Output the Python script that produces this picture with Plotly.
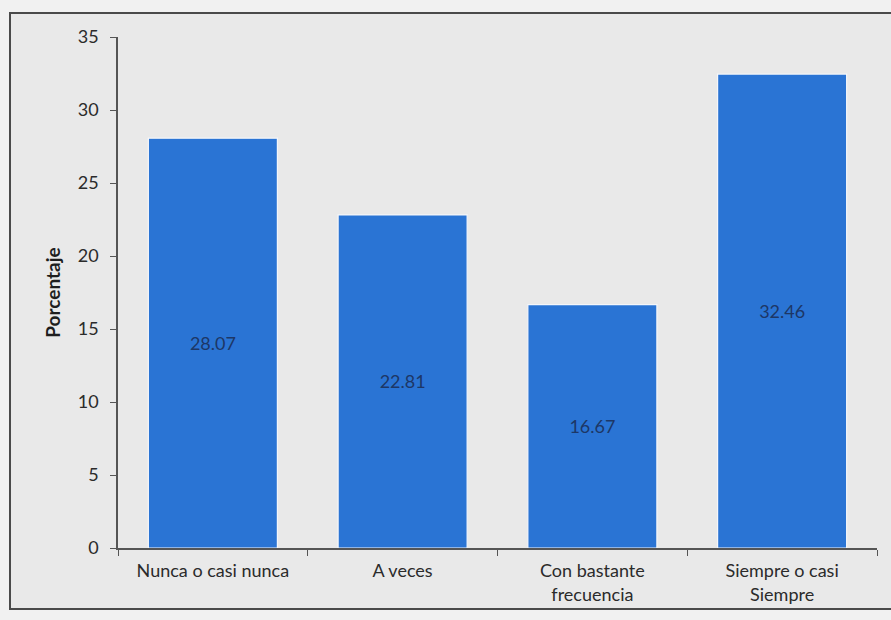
import plotly.graph_objects as go

categories = ["Nunca o casi nunca", "A veces", "Con bastante<br>frecuencia", "Siempre o casi<br>Siempre"]
values = [28.07, 22.81, 16.67, 32.46]
y_ticks = [0, 5, 10, 15, 20, 25, 30, 35]

W, H = 891, 620
L, R, T, B = 118, 14, 37, 72
plot_w = W - L - R
plot_h = H - T - B


def px_to_paper_x(px):
    return (px - L) / plot_w


def px_to_paper_y(py):
    return (H - B - py) / plot_h


font_family = "Lato, 'Open Sans', sans-serif"

fig = go.Figure()
fig.add_trace(go.Bar(
    x=categories,
    y=values,
    marker=dict(color="#2a74d4", line=dict(color="#f4f6fa", width=1.2)),
    text=[f"{v:.2f}" for v in values],
    textposition="inside",
    insidetextanchor="middle",
    textfont=dict(color="#1d3766", size=18, family=font_family),
    width=0.68,
    hoverinfo="skip",
))

# outer frame around the chart area
fig.add_shape(
    type="rect", xref="paper", yref="paper",
    x0=px_to_paper_x(10), x1=px_to_paper_x(905),
    y0=px_to_paper_y(609), y1=px_to_paper_y(13),
    line=dict(color="#4a4a4a", width=2),
    fillcolor="#e9e9e9",
    layer="below",
)

fig.update_layout(
    width=W, height=H,
    margin=dict(l=L, r=R, t=T, b=B, pad=0),
    paper_bgcolor="#f1f1f1",
    plot_bgcolor="rgba(0,0,0,0)",
    showlegend=False,
    font=dict(family=font_family, color="#2b2b2b", size=17),
    xaxis=dict(
        type="category",
        showline=True, linecolor="#555555", linewidth=1.5,
        ticks="outside", tickson="boundaries", ticklen=6, tickcolor="#555555",
        showgrid=False,
        ticklabelstandoff=6,
        tickfont=dict(size=18, color="#2b2b2b"),
    ),
    yaxis=dict(
        range=[0, 35],
        tickvals=y_ticks,
        showline=True, linecolor="#555555", linewidth=1.5,
        ticks="outside", ticklen=6, tickcolor="#555555",
        showgrid=False, zeroline=False,
        ticklabelstandoff=8,
        tickfont=dict(size=18, color="#2b2b2b"),
        title=dict(text="<b>Porcentaje</b>", font=dict(size=19, color="#1e1e1e"), standoff=12),
    ),
)

fig.write_html("out.html")
